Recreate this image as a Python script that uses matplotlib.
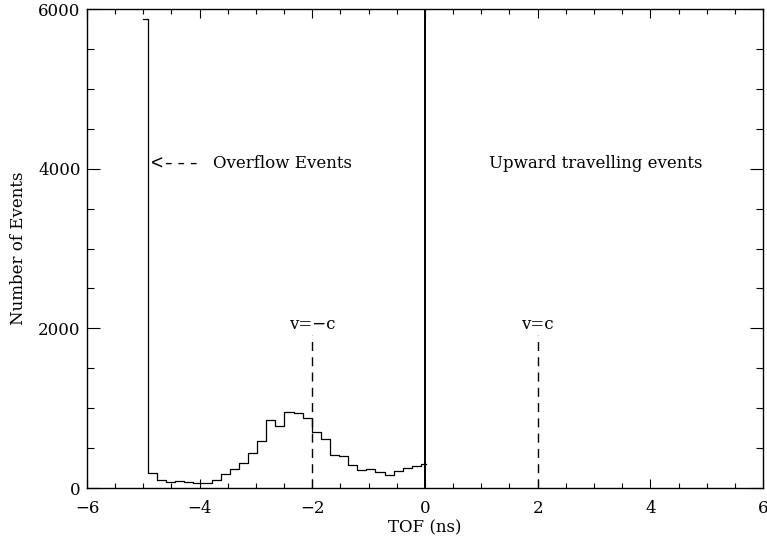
import numpy as np
import matplotlib
matplotlib.use('Agg')
import matplotlib.pyplot as plt
from matplotlib.ticker import MultipleLocator

# histogram of time of flight, counts per bin (first bin = overflow events)
tof_first_center = -5.0
tof_bin_width = 0.1616
counts = [5870, 185, 100, 72, 84, 72, 58, 66, 100, 172, 235, 310, 436, 590,
          854, 782, 946, 938, 882, 706, 610, 414, 402, 288, 226, 234, 197,
          163, 217, 254, 280, 305]

# dashed markers for v = -c and v = +c
marker_x = [-2, 2]
marker_top = 1920
marker_labels = ['v=\u2212c', 'v=c']
marker_label_y = 2045

label_y = 4060
arrow_text = '<---'
arrow_x = -4.87
overflow_text = 'Overflow Events'
overflow_x = -3.77
upward_text = 'Upward travelling events'
upward_x = 3.03

FONT = 'DejaVu Serif'
FS = 12


def get_centers():
    return tof_first_center + tof_bin_width * np.arange(len(counts))


def draw_histogram(ax):
    ax.step(get_centers(), counts, where='mid', color='black', lw=0.9)
    ax.plot([0, 0], [0, 6000], color='black', lw=1.4)


def draw_markers(ax):
    for i in range(len(marker_x)):
        ax.plot([marker_x[i], marker_x[i]], [0, marker_top], color='black',
                lw=1.0, dashes=(6.5, 4.5))
        ax.text(marker_x[i], marker_label_y, marker_labels[i], ha='center',
                va='center', family=FONT, fontsize=FS)
    # the arrow's dashes are long in the original font, mono gets closer
    ax.text(arrow_x, label_y, arrow_text, ha='left', va='center',
            family='Liberation Mono', fontsize=15)
    ax.text(overflow_x, label_y, overflow_text, ha='left', va='center',
            family=FONT, fontsize=FS)
    ax.text(upward_x, label_y, upward_text, ha='center', va='center',
            family=FONT, fontsize=FS)


fig = plt.figure(figsize=(7.67, 5.39), dpi=100)
ax = fig.add_axes([0.1134, 0.0946, 0.8814, 0.8887])

draw_histogram(ax)
draw_markers(ax)

ax.set_xlim(-6, 6)
ax.set_ylim(0, 6000)
ax.xaxis.set_major_locator(MultipleLocator(2))
ax.xaxis.set_minor_locator(MultipleLocator(0.5))
ax.yaxis.set_major_locator(MultipleLocator(2000))
ax.yaxis.set_minor_locator(MultipleLocator(500))
ax.tick_params(axis='both', which='both', direction='in', top=True, right=True,
               width=0.8, labelsize=FS)
ax.tick_params(axis='x', which='major', length=6.3, pad=8.5)
ax.tick_params(axis='x', which='minor', length=3.3)
ax.tick_params(axis='y', which='major', length=9.6, pad=4.5)
ax.tick_params(axis='y', which='minor', length=5.0)
for label in ax.get_xticklabels() + ax.get_yticklabels():
    label.set_family(FONT)
for spine in ax.spines.values():
    spine.set_linewidth(1.0)

ax.set_xlabel('TOF (ns)', family=FONT, fontsize=FS, labelpad=2)
ax.set_ylabel('Number of Events', family=FONT, fontsize=FS, labelpad=8)

fig.savefig('out.png', dpi=100)
plt.close(fig)
